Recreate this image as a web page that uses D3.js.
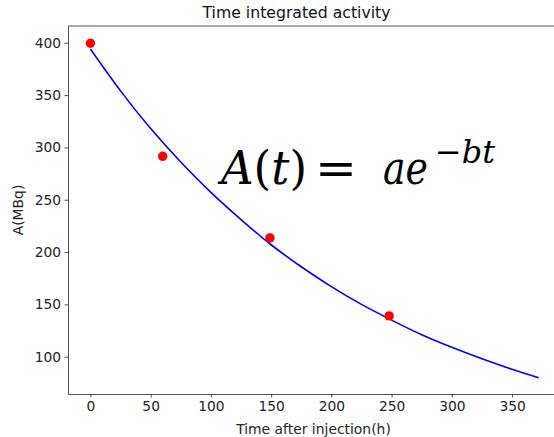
<!DOCTYPE html>
<html>
<head>
<meta charset="utf-8">
<script src="https://cdn.jsdelivr.net/npm/d3@7"></script>
<style>
    body { margin: 0; background: #fff; }
    text { font-family: "DejaVu Sans", sans-serif; fill: #262626; }
</style>
</head>
<body>
<script>
// measured points (time in h, activity in MBq)
const measTimes = [0, 60, 149, 248];
const measValues = [399.5, 291.5, 213.5, 139];

// fitted curve
const fitTimes = [0, 25, 50, 75, 100, 125, 150, 175, 200, 225, 250, 275, 300, 325, 350, 372];
const fitValues = [394, 354, 318, 286, 257, 231, 207, 186, 167, 150, 135, 121, 109, 98, 88, 80];

const xTicks = [0, 50, 100, 150, 200, 250, 300, 350];
const yTicks = [100, 150, 200, 250, 300, 350, 400];

const width = 554, height = 437;
let margin = { top: 26, right: -7, bottom: 43, left: 68 };

let svg = d3.select("body").append("svg")
    .attr("width", width)
    .attr("height", height);

let xScale = d3.scaleLinear()
    .domain([-18.6, 390.6])
    .range([margin.left, width - margin.right]);

let yScale = d3.scaleLinear()
    .domain([64.4, 416])
    .range([height - margin.bottom, margin.top]);

// x axis
let xAxis = svg.append("g")
    .attr("transform", "translate(0," + (height - margin.bottom) + ")")
    .call(d3.axisBottom(xScale).tickValues(xTicks).tickSizeInner(3.5).tickSizeOuter(0).tickPadding(3.5));

// y axis
let yAxis = svg.append("g")
    .attr("transform", "translate(" + margin.left + ",0)")
    .call(d3.axisLeft(yScale).tickValues(yTicks).tickSizeInner(3.5).tickSizeOuter(0).tickPadding(3.5));

[xAxis, yAxis].forEach(g => {
    g.selectAll("text").style("font-size", "13.8px");
    g.selectAll("line").attr("stroke", "#262626").attr("stroke-width", 0.8);
    g.select(".domain").attr("stroke", "#262626").attr("stroke-width", 0.8);
});

// top spine
svg.append("line")
    .attr("x1", margin.left).attr("x2", width - margin.right)
    .attr("y1", margin.top).attr("y2", margin.top)
    .attr("stroke", "#262626").attr("stroke-width", 0.8);

// fitted line
let line = d3.line()
    .x((d, i) => xScale(fitTimes[i]))
    .y(d => yScale(d))
    .curve(d3.curveNatural);

svg.append("path")
    .datum(fitValues)
    .attr("fill", "none")
    .attr("stroke", "#0000ff")
    .attr("stroke-width", 1.6)
    .attr("d", line);

// measured dots
svg.selectAll(".dot")
    .data(measValues)
    .enter().append("circle")
    .attr("class", "dot")
    .attr("cx", (d, i) => xScale(measTimes[i]))
    .attr("cy", d => yScale(d))
    .attr("r", 4.7)
    .attr("fill", "#ff0000");

// title and labels
svg.append("text")
    .attr("x", 296.5).attr("y", 18)
    .attr("text-anchor", "middle")
    .style("font-size", "15.7px")
    .style("fill", "#111")
    .text("Time integrated activity");

svg.append("text")
    .attr("x", 313.5).attr("y", 434)
    .attr("text-anchor", "middle")
    .style("font-size", "13.9px")
    .text("Time after injection(h)");

svg.append("text")
    .attr("transform", "translate(23,210) rotate(-90)")
    .attr("text-anchor", "middle")
    .style("font-size", "13.9px")
    .text("A(MBq)");

// formula: each piece squeezed to the width it has in the picture
function formulaPart(x, y, size, len, build) {
    let t = svg.append("text")
        .attr("x", x).attr("y", y)
        .attr("textLength", len)
        .attr("lengthAdjust", "spacingAndGlyphs")
        .style("font-family", "'DejaVu Serif', serif")
        .style("font-style", "italic")
        .style("font-size", size + "px")
        .style("fill", "#000");
    build(t);
}
formulaPart(221, 184, 46, 86, t => {
    t.append("tspan").text("A");
    t.append("tspan").style("font-style", "normal").text("(");
    t.append("tspan").text("t");
    t.append("tspan").style("font-style", "normal").text(")");
});
formulaPart(315, 184, 46, 42, t => t.append("tspan").style("font-style", "normal").text("="));
formulaPart(383, 184, 46, 45, t => t.append("tspan").text("ae"));
formulaPart(435, 163, 32, 60, t => {
    t.append("tspan").style("font-style", "normal").text("\u2212");
    t.append("tspan").text("bt");
});
</script>
</body>
</html>
